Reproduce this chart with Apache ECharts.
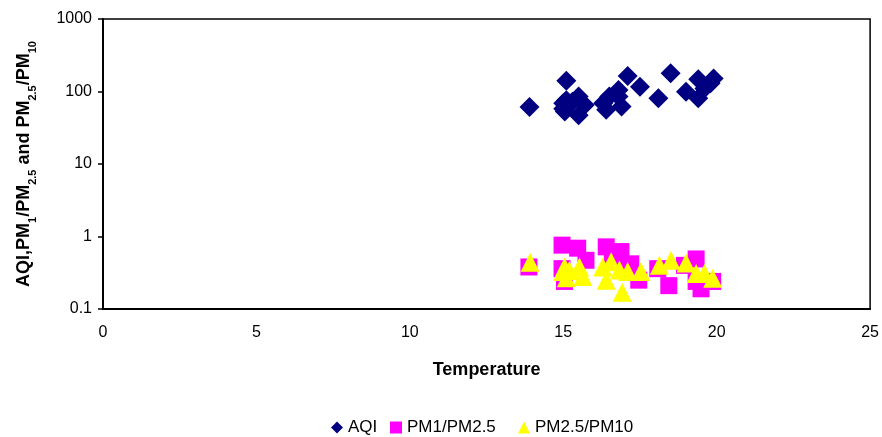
<!DOCTYPE html>
<html><head><meta charset="utf-8">
<script src="https://cdn.jsdelivr.net/npm/echarts@6/dist/echarts.min.js"></script>
<style>html,body{margin:0;padding:0;background:#fff}#c{width:882px;height:437px}</style>
</head><body><div id="c"></div>
<script>
const xTicks = [0, 5, 10, 15, 20, 25];
const yTicks = [0.1, 1, 10, 100, 1000];

const aqiT = [13.9, 15.0, 15.1, 15.05, 15.1, 15.0, 15.5, 15.5, 15.7, 15.3, 16.3, 16.4, 16.5, 16.8, 16.9, 16.8, 17.1, 17.5, 18.1, 18.5, 19.0, 19.4, 19.4, 19.8, 19.9, 19.6];
const aqiV = [61, 58, 141, 53, 76, 69, 85, 47, 65, 72, 69, 56, 85, 105, 62, 85, 164, 116, 81, 178, 99, 147, 81, 130, 151, 110];

const pm1T = [13.88, 14.96, 15.47, 16.4, 16.88, 14.96, 15.04, 15.74, 17.05, 17.46, 18.08, 18.44, 18.95, 19.33, 19.33, 19.49, 19.87, 16.6, 16.7, 17.2];
const pm1V = [0.38, 0.76, 0.69, 0.72, 0.62, 0.36, 0.24, 0.47, 0.40, 0.25, 0.36, 0.21, 0.40, 0.49, 0.24, 0.19, 0.24, 0.47, 0.52, 0.42];

const pm25T = [13.92, 15.04, 15.1, 15.53, 15.64, 16.29, 16.56, 16.4, 16.83, 17.1, 16.92, 17.53, 18.13, 18.51, 19.0, 19.33, 19.6, 19.87, 15.2, 14.98];
const pm25V = [0.44, 0.38, 0.27, 0.38, 0.28, 0.38, 0.45, 0.25, 0.345, 0.33, 0.17, 0.33, 0.40, 0.47, 0.43, 0.31, 0.31, 0.265, 0.34, 0.33];

const seriesNames = ['AQI', 'PM1/PM2.5', 'PM2.5/PM10'];

function zip(a, b) { return a.map((v, i) => [v, b[i]]); }

const chart = echarts.init(document.getElementById('c'));
const font = 'Liberation Sans, Arial, sans-serif';
const legendBase = { top: 414, itemWidth: 12, itemHeight: 12, textStyle: { color: '#000', fontSize: 17, fontFamily: font } };
chart.setOption({
  animation: false,
  textStyle: { fontFamily: font },
  grid: { left: 103, right: 11, top: 19, bottom: 128, show: true, borderColor: '#000', borderWidth: 1.5, backgroundColor: 'transparent' },
  xAxis: {
    type: 'value', min: 0, max: 25, interval: 5,
    axisLine: { lineStyle: { color: '#000', width: 2 } },
    axisTick: { show: false },
    splitLine: { show: false },
    axisLabel: { color: '#000', fontSize: 16, margin: 16, fontFamily: font },
    name: 'Temperature', nameLocation: 'middle', nameGap: 52,
    nameTextStyle: { color: '#000', fontSize: 18, fontWeight: 'bold', fontFamily: font }
  },
  yAxis: {
    type: 'log', logBase: 10, min: 0.1, max: 1000,
    axisLine: { lineStyle: { color: '#000', width: 2 } },
    axisTick: { show: true, inside: false, length: 5, lineStyle: { color: '#000', width: 1.5 } },
    splitLine: { show: false },
    minorTick: { show: false },
    axisLabel: { color: '#000', fontSize: 16, margin: 11, fontFamily: font,
      formatter: v => { const s = yTicks.find(t => Math.abs(t - v) / t < 1e-6); return s !== undefined ? String(s) : ''; } },
    name: '{b|AQI,PM}{s|1}{b|/PM}{s|2.5}{b| and PM}{s|2.5}{b|/PM}{s|10}',
    nameLocation: 'middle', nameGap: 70, nameRotate: 90,
    nameTextStyle: {
      color: '#000', fontWeight: 'bold', fontFamily: font,
      rich: {
        b: { fontSize: 18, fontWeight: 'bold', color: '#000', fontFamily: font, verticalAlign: 'bottom', lineHeight: 22 },
        s: { fontSize: 11, fontWeight: 'bold', color: '#000', fontFamily: font, verticalAlign: 'bottom', lineHeight: 14, padding: [0, 0, -5, 0] }
      }
    }
  },
  legend: [
    Object.assign({}, legendBase, { left: 326, data: [{ name: seriesNames[0], icon: 'diamond' }] }),
    Object.assign({}, legendBase, { left: 385, data: [{ name: seriesNames[1], icon: 'rect' }] }),
    Object.assign({}, legendBase, { left: 513, data: [{ name: seriesNames[2], icon: 'triangle' }] })
  ],
  series: [
    { name: seriesNames[0], type: 'scatter', symbol: 'diamond', symbolSize: 20, data: zip(aqiT, aqiV), itemStyle: { color: '#000080', opacity: 1 } },
    { name: seriesNames[1], type: 'scatter', symbol: 'rect', symbolSize: 17, data: zip(pm1T, pm1V), itemStyle: { color: '#FF00FF', opacity: 1 } },
    { name: seriesNames[2], type: 'scatter', symbol: 'triangle', symbolSize: 19, data: zip(pm25T, pm25V), itemStyle: { color: '#FFFF00', opacity: 1 } }
  ]
});
</script></body></html>
